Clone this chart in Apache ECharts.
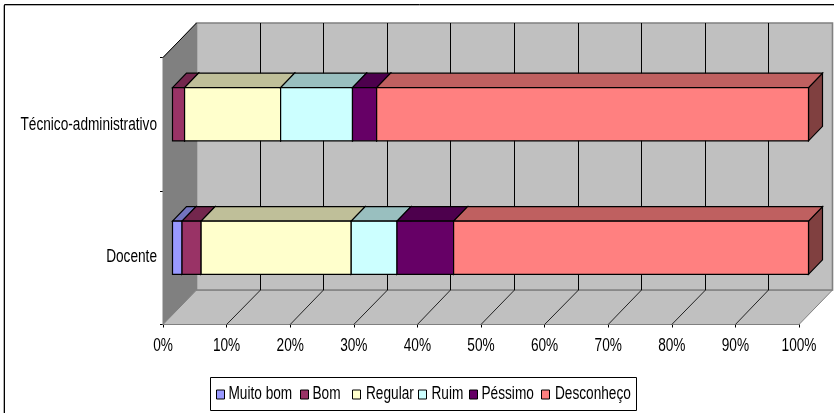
<!DOCTYPE html>
<html>
<head>
<meta charset="utf-8">
<style>html,body{margin:0;padding:0;background:#fff}#chart{width:834px;height:413px}</style>
<script src="https://cdn.jsdelivr.net/npm/echarts@6/dist/echarts.min.js"></script>
</head>
<body>
<div id="chart"></div>
<script>
// Avaliação por segmento, barras empilhadas em 100%
const categories = ['Docente', 'Técnico-administrativo'];
const seriesNames = ['Muito bom', 'Bom', 'Regular', 'Ruim', 'Péssimo', 'Desconheço'];
const muitoBom = [1.5, 0];
const bom = [3.0, 1.9];
const regular = [23.6, 15.1];
const ruim = [7.2, 11.3];
const pessimo = [8.9, 3.8];
const desconheco = [55.8, 67.9];
const percentTicks = [0, 10, 20, 30, 40, 50, 60, 70, 80, 90, 100];

const seriesValues = [muitoBom, bom, regular, ruim, pessimo, desconheco];
const front = ['#9999FF', '#993366', '#FFFFCC', '#CCFFFF', '#660066', '#FF8080'];

// Rótulos em Liberation Sans comprimida na horizontal
const FONT = '17.5px "Liberation Sans",Arial,sans-serif';
const NARROW = 0.78;
// Profundidade da perspectiva: parede do fundo e faces da barra
const WALL_DX = 33.5, WALL_DY = -34.5;
const BAR_DX = 9.5, BAR_DY = -10;
const BAR_DEPTH_X = 14, BAR_DEPTH_Y = -14.5;
const BAR_HALF = 26.6;
// Ajuste vertical dos rótulos de categoria
const categoryLabelShift = [-0.5, 1.2];
// Início de cada chave e de cada texto da legenda
const legendX = [216, 300, 352, 418, 469, 541];
const legendTextX = [228.5, 312.5, 366, 431.5, 481.5, 555];

function shade(hex, f) {
  const n = parseInt(hex.slice(1), 16);
  const c = [(n >> 16) & 255, (n >> 8) & 255, n & 255].map(v => Math.round(v * f));
  return `rgb(${c[0]},${c[1]},${c[2]})`;
}
function poly(points, fill, stroke, width) {
  return { type: 'polygon', shape: { points }, style: { fill, stroke, lineWidth: width } };
}
function line(x1, y1, x2, y2, stroke, width) {
  return { type: 'line', shape: { x1, y1, x2, y2 }, style: { stroke, lineWidth: width } };
}
function label(text, x, y, align) {
  return {
    type: 'text', x, y, scaleX: NARROW,
    style: { text, font: FONT, fill: '#000', align, verticalAlign: 'middle' }
  };
}

// Paredes, piso e linhas de grade em perspectiva
const wallSeries = {
  type: 'custom',
  silent: true,
  z: 1,
  coordinateSystem: 'cartesian2d',
  data: percentTicks.map(v => [v]),
  encode: { x: 0 },
  renderItem(params, api) {
    const s = params.coordSys;
    const l = s.x, r = s.x + s.width, t = s.y, b = s.y + s.height;
    const children = [];
    if (params.dataIndex === 0) {
      children.push(
        poly([[l, t], [l + WALL_DX, t + WALL_DY], [l + WALL_DX, b + WALL_DY], [l, b]], '#808080', '#808080', 1),
        poly([[l, b], [r, b], [r + WALL_DX, b + WALL_DY], [l + WALL_DX, b + WALL_DY]], '#C0C0C0', '#808080', 1),
        poly([[l + WALL_DX, t + WALL_DY], [r + WALL_DX, t + WALL_DY], [r + WALL_DX, b + WALL_DY], [l + WALL_DX, b + WALL_DY]], '#C0C0C0', '#808080', 1.6),
        line(l, t, l + WALL_DX, t + WALL_DY, '#000', 1)
      );
    }
    const v = api.value(0);
    if (v > 0 && v < 100) {
      const x = api.coord([v, categories[0]])[0];
      // Coluna inteira de pixels para a linha sair nítida
      const backX = Math.floor(x + WALL_DX) + 0.5;
      children.push(
        line(backX, t + WALL_DY, backX, b + WALL_DY, '#000', 1),
        line(x, b, backX, b + WALL_DY, '#222', 1)
      );
    }
    return { type: 'group', children };
  }
};

// Uma série por nível de avaliação, empilhada a partir dos valores
const barSeries = seriesNames.map((name, si) => ({
  name,
  type: 'custom',
  z: 3 + si,
  coordinateSystem: 'cartesian2d',
  data: categories.map((c, ci) => [seriesValues[si][ci], c, ci]),
  encode: { x: 0, y: 1 },
  renderItem(params, api) {
    const ci = api.value(2);
    const val = api.value(0);
    if (!val) return { type: 'group', children: [] };
    let start = 0;
    for (let k = 0; k < si; k++) start += seriesValues[k][ci];
    const p0 = api.coord([start, categories[ci]]);
    const p1 = api.coord([start + val, categories[ci]]);
    const x0 = p0[0] + BAR_DX, x1 = p1[0] + BAR_DX;
    const top = p0[1] + BAR_DY - BAR_HALF, bot = p0[1] + BAR_DY + BAR_HALF;
    const dx = BAR_DEPTH_X, dy = BAR_DEPTH_Y;
    return {
      type: 'group',
      children: [
        poly([[x1, top], [x1 + dx, top + dy], [x1 + dx, bot + dy], [x1, bot]], shade(front[si], 0.5), '#000', 1.2),
        poly([[x0, top], [x0 + dx, top + dy], [x1 + dx, top + dy], [x1, top]], shade(front[si], 0.75), '#000', 1.2),
        poly([[x0, top], [x1, top], [x1, bot], [x0, bot]], front[si], '#000', 1.2)
      ]
    };
  }
}));

// Rótulos do eixo percentual
const percentLabels = {
  type: 'custom',
  silent: true,
  z: 20,
  coordinateSystem: 'cartesian2d',
  data: percentTicks.map(v => [v]),
  encode: { x: 0 },
  renderItem(params, api) {
    const v = api.value(0);
    const p = api.coord([v, categories[0]]);
    return label(v + '%', p[0], params.coordSys.y + params.coordSys.height + 21.5, 'center');
  }
};

// Rótulos do eixo de categorias
const categoryLabels = {
  type: 'custom',
  silent: true,
  z: 20,
  coordinateSystem: 'cartesian2d',
  data: categories.map(c => [0, c]),
  encode: { x: 0, y: 1 },
  renderItem(params, api) {
    const i = params.dataIndex;
    const p = api.coord([0, categories[i]]);
    return label(categories[i], p[0] - 6, p[1] + categoryLabelShift[i], 'right');
  }
};

// Quadro externo, caixa da legenda e chaves
const LEGEND_Y = 394.5;
const legendGraphics = [
  { type: 'rect', z: 0, silent: true, shape: { x: 3.5, y: 5.5, width: 900, height: 500 }, style: { fill: 'none', stroke: '#b0b0b0', lineWidth: 1 } },
  { type: 'rect', z: 0, silent: true, shape: { x: 4.5, y: 4.5, width: 900, height: 500 }, style: { fill: 'none', stroke: '#000', lineWidth: 1 } },
  { type: 'rect', z: 30, silent: true, shape: { x: 210.5, y: 377.5, width: 426, height: 33 }, style: { fill: '#fff', stroke: '#000', lineWidth: 1 } }
];
seriesNames.forEach((name, i) => {
  legendGraphics.push(
    { type: 'rect', z: 31, silent: true, shape: { x: legendX[i] + 0.5, y: LEGEND_Y - 4.5, width: 8, height: 9 }, style: { fill: front[i], stroke: '#000', lineWidth: 1 } },
    { type: 'text', z: 31, silent: true, x: legendTextX[i], y: LEGEND_Y, scaleX: NARROW,
      style: { text: name, font: FONT, fill: '#000', align: 'left', verticalAlign: 'middle' } }
  );
});

const chart = echarts.init(document.getElementById('chart'), null, { renderer: 'canvas' });
chart.setOption({
  animation: false,
  backgroundColor: '#fff',
  graphic: legendGraphics,
  grid: { left: 163, top: 57.5, width: 636, height: 267, containLabel: false, outerBoundsMode: 'none' },
  xAxis: {
    type: 'value',
    min: 0,
    max: 100,
    interval: 10,
    axisLine: { show: true, lineStyle: { color: '#000', width: 1 } },
    axisTick: { show: true, length: 3, lineStyle: { color: '#000' } },
    splitLine: { show: false },
    axisLabel: { show: false }
  },
  yAxis: {
    type: 'category',
    data: categories,
    axisLine: { show: true, lineStyle: { color: '#000', width: 1 } },
    axisTick: { show: true, length: 3, lineStyle: { color: '#000' } },
    axisLabel: { show: false }
  },
  series: [wallSeries].concat(barSeries, [percentLabels, categoryLabels])
});
</script>
</body>
</html>
